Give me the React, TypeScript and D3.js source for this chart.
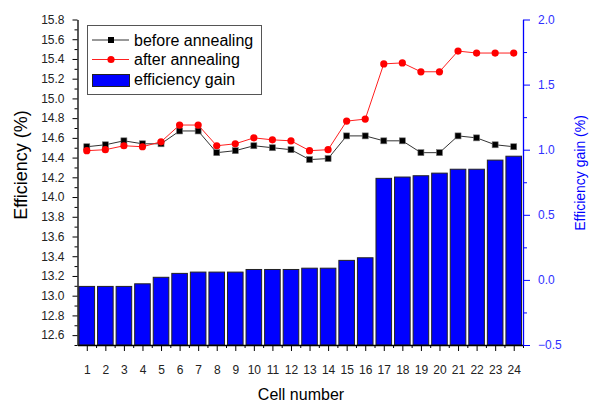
import React, { useEffect, useRef } from "react";
import * as d3 from "d3";

const cells = [1, 2, 3, 4, 5, 6, 7, 8, 9, 10, 11, 12, 13, 14, 15, 16, 17, 18, 19, 20, 21, 22, 23, 24];
const beforeAnnealing = [
  14.51, 14.53, 14.57, 14.54, 14.54, 14.67, 14.67, 14.45, 14.47, 14.52, 14.5, 14.48,
  14.38, 14.39, 14.62, 14.62, 14.57, 14.57, 14.45, 14.45, 14.62, 14.6, 14.53, 14.51,
];
const afterAnnealing = [
  14.47, 14.48, 14.52, 14.51, 14.56, 14.73, 14.73, 14.52, 14.54, 14.6, 14.58, 14.57,
  14.47, 14.48, 14.77, 14.79, 15.35, 15.36, 15.27, 15.27, 15.48, 15.46, 15.46, 15.46,
];
const efficiencyGain = [
  -0.05, -0.05, -0.05, -0.03, 0.02, 0.05, 0.06, 0.06, 0.06, 0.08, 0.08, 0.08,
  0.09, 0.09, 0.15, 0.17, 0.78, 0.79, 0.8, 0.82, 0.85, 0.85, 0.92, 0.95,
];
const leftTicks = [12.6, 12.8, 13.0, 13.2, 13.4, 13.6, 13.8, 14.0, 14.2, 14.4, 14.6, 14.8, 15.0, 15.2, 15.4, 15.6, 15.8];
const rightTicks = [-0.5, 0.0, 0.5, 1.0, 1.5, 2.0];

const FONT = "'Liberation Sans', Arial, sans-serif";
const BLUE = "#0000ff";

const App = () => {
  const ref = useRef<SVGSVGElement>(null);

  useEffect(() => {
    const width = 597;
    const height = 403;
    const plot = { left: 77.5, right: 523, top: 19.5, bottom: 345 };

    const svg = d3.select(ref.current);
    svg.selectAll("*").remove();
    svg.attr("width", width).attr("height", height).style("font-family", FONT);

    const x = d3.scaleLinear().domain([0.5, 24.5]).range([plot.left, plot.right]);
    const y = d3.scaleLinear().domain([12.5, 15.8]).range([plot.bottom, plot.top]);
    const y2 = d3.scaleLinear().domain([-0.5, 2.0]).range([plot.bottom, plot.top]);

    // bars (efficiency gain) from bottom of the plot
    const step = x(2) - x(1);
    const bw = step * 0.84;
    svg
      .append("g")
      .selectAll("rect")
      .data(cells)
      .join("rect")
      .attr("x", (d) => x(d) - bw / 2)
      .attr("y", (d, i) => y2(efficiencyGain[i]))
      .attr("width", bw)
      .attr("height", (d, i) => plot.bottom - y2(efficiencyGain[i]))
      .attr("fill", BLUE)
      .attr("stroke", "#222")
      .attr("stroke-width", 1);

    // x axis
    const minorX = d3.range(1, 25).map((d) => d + 0.5).slice(0, 24);
    svg
      .append("g")
      .attr("transform", `translate(0,${plot.bottom})`)
      .call(d3.axisBottom(x).tickValues(minorX).tickSize(3).tickFormat(() => ""))
      .call((g) => g.select(".domain").remove())
      .call((g) => g.selectAll("line").attr("stroke", "#000"));
    svg
      .append("g")
      .attr("transform", `translate(0,${plot.bottom})`)
      .call(d3.axisBottom(x).tickValues(cells).tickSize(6).tickSizeOuter(0).tickPadding(14))
      .call((g) => g.select(".domain").attr("stroke", "#000").attr("stroke-width", 1.3))
      .call((g) =>
        g.selectAll("text").attr("font-size", 12).attr("font-family", FONT).attr("fill", "#222")
      );

    // left axis
    const minorLeft = d3.range(0, 33).map((i) => +(12.5 + i * 0.1).toFixed(1)).filter((v) => !leftTicks.includes(v));
    svg
      .append("g")
      .attr("transform", `translate(${plot.left},0)`)
      .call(d3.axisLeft(y).tickValues(minorLeft).tickSize(3).tickFormat(() => ""))
      .call((g) => g.select(".domain").remove());
    svg
      .append("g")
      .attr("transform", `translate(${plot.left},0)`)
      .call(d3.axisLeft(y).tickValues(leftTicks).tickSize(5).tickSizeOuter(0).tickPadding(8).tickFormat(d3.format(".1f")))
      .call((g) => g.select(".domain").attr("stroke", "#000").attr("stroke-width", 1.3))
      .call((g) =>
        g.selectAll("text").attr("font-size", 12).attr("font-family", FONT).attr("fill", "#222")
      );

    // right axis
    const minorRight = [-0.25, 0.25, 0.75, 1.25, 1.75];
    svg
      .append("g")
      .attr("transform", `translate(${plot.right},0)`)
      .call(d3.axisRight(y2).tickValues(minorRight).tickSize(4).tickFormat(() => ""))
      .call((g) => g.select(".domain").remove())
      .call((g) => g.selectAll("line").attr("stroke", BLUE));
    svg
      .append("g")
      .attr("transform", `translate(${plot.right},0)`)
      .call(d3.axisRight(y2).tickValues(rightTicks).tickSize(7).tickSizeOuter(0).tickPadding(8).tickFormat(d3.format(".1f")))
      .call((g) => g.select(".domain").attr("stroke", BLUE).attr("stroke-width", 1.3))
      .call((g) => g.selectAll("line").attr("stroke", BLUE))
      .call((g) =>
        g.selectAll("text").attr("font-size", 12).attr("font-family", FONT).attr("fill", "#3030ff")
      );

    // lines
    const lineBefore = d3
      .line<number>()
      .x((d, i) => x(cells[i]))
      .y((d) => y(d));
    svg
      .append("path")
      .datum(beforeAnnealing)
      .attr("d", lineBefore)
      .attr("fill", "none")
      .attr("stroke", "#333")
      .attr("stroke-width", 1);
    svg
      .append("g")
      .selectAll("rect")
      .data(beforeAnnealing)
      .join("rect")
      .attr("x", (d, i) => x(cells[i]) - 3)
      .attr("y", (d) => y(d) - 3)
      .attr("width", 6)
      .attr("height", 6)
      .attr("fill", "#000")
      .attr("stroke", "#777")
      .attr("stroke-width", 0.6);

    svg
      .append("path")
      .datum(afterAnnealing)
      .attr("d", lineBefore)
      .attr("fill", "none")
      .attr("stroke", "#ff2020")
      .attr("stroke-width", 1);
    svg
      .append("g")
      .selectAll("circle")
      .data(afterAnnealing)
      .join("circle")
      .attr("cx", (d, i) => x(cells[i]))
      .attr("cy", (d) => y(d))
      .attr("r", 3.6)
      .attr("fill", "#ff0000");

    // legend
    const legend = svg.append("g");
    legend
      .append("rect")
      .attr("x", 87.5)
      .attr("y", 25.5)
      .attr("width", 174)
      .attr("height", 69)
      .attr("fill", "#fff")
      .attr("stroke", "#555");
    legend.append("line").attr("x1", 92).attr("x2", 129).attr("y1", 40).attr("y2", 40).attr("stroke", "#333");
    legend.append("rect").attr("x", 108).attr("y", 37).attr("width", 6).attr("height", 6).attr("fill", "#000");
    legend.append("line").attr("x1", 92).attr("x2", 129).attr("y1", 59.5).attr("y2", 59.5).attr("stroke", "#ff2020");
    legend.append("circle").attr("cx", 111).attr("cy", 59.5).attr("r", 3.6).attr("fill", "#ff0000");
    legend
      .append("rect")
      .attr("x", 92.5)
      .attr("y", 74.5)
      .attr("width", 37)
      .attr("height", 12)
      .attr("fill", BLUE)
      .attr("stroke", "#222");
    const labels = ["before annealing", "after annealing", "efficiency gain"];
    const baselines = [45.5, 64.5, 85];
    labels.forEach((t, i) => {
      legend
        .append("text")
        .attr("x", 134)
        .attr("y", baselines[i])
        .attr("font-size", 16)
        .attr("fill", "#000")
        .text(t);
    });

    // axis titles
    svg
      .append("text")
      .attr("transform", `translate(27,165) rotate(-90)`)
      .attr("text-anchor", "middle")
      .attr("font-size", 18)
      .attr("fill", "#000")
      .text("Efficiency (%)");
    svg
      .append("text")
      .attr("transform", `translate(585,173) rotate(-90)`)
      .attr("text-anchor", "middle")
      .attr("font-size", 14)
      .attr("fill", BLUE)
      .text("Efficiency gain (%)");
    svg
      .append("text")
      .attr("x", 301)
      .attr("y", 400)
      .attr("text-anchor", "middle")
      .attr("font-size", 16)
      .attr("fill", "#000")
      .text("Cell number");
  }, []);

  return (
    <div style={{ position: "absolute", left: 0, top: 0 }}>
      <svg ref={ref}></svg>
    </div>
  );
};

export default App;
